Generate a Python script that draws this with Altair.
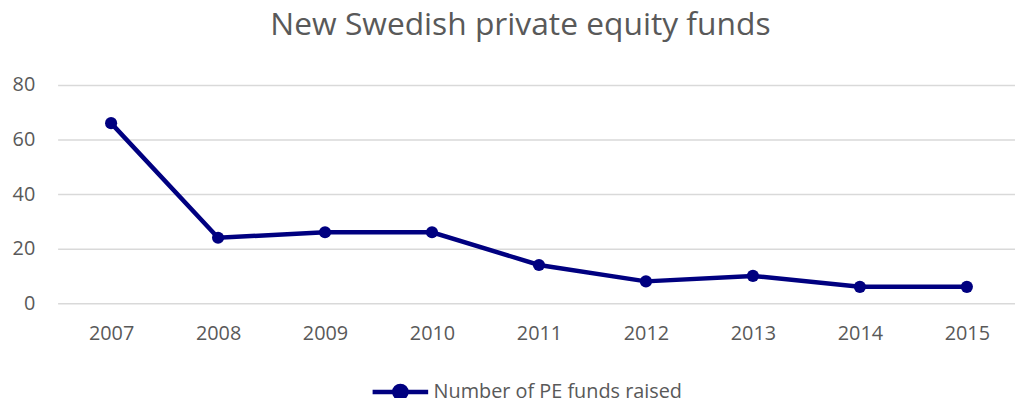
import altair as alt
import pandas as pd

years = [2007, 2008, 2009, 2010, 2011, 2012, 2013, 2014, 2015]
funds = [66, 24, 26, 26, 14, 8, 10, 6, 6]
series = ["Number of PE funds raised"] * len(years)

df = pd.DataFrame({"year": years, "funds": funds, "series": series})

NAVY = "#000080"
GREY = "#595959"
FONT = "Open Sans"

legend_path = ("M-1,0L1,0 M-0.22,0 A0.22,0.22 0 1,1 0.22,0 "
               "A0.22,0.22 0 1,1 -0.22,0 Z")

color = alt.Color(
    "series:N",
    scale=alt.Scale(range=[NAVY]),
    legend=alt.Legend(
        title=None,
        orient="none",
        legendX=315,
        legendY=279,
        symbolType=legend_path,
        symbolSize=3136,
        symbolStrokeWidth=4.5,
        symbolFillColor=NAVY,
        symbolStrokeColor=NAVY,
        labelFont=FONT,
        labelFontSize=20,
        labelColor=GREY,
        labelOffset=3,
        labelLimit=500,
    ),
)

chart = (
    alt.Chart(df)
    .mark_line(strokeWidth=4.5, point=alt.OverlayMarkDef(size=150, filled=True, opacity=1))
    .encode(
        x=alt.X(
            "year:Q",
            scale=alt.Scale(domain=[2006.5, 2015.45], nice=False, zero=False),
            axis=alt.Axis(
                values=years,
                format="d",
                title=None,
                grid=False,
                domain=False,
                ticks=False,
                labelFont=FONT,
                labelFontSize=20,
                labelColor=GREY,
                labelPadding=21,
            ),
        ),
        y=alt.Y(
            "funds:Q",
            scale=alt.Scale(domain=[0, 80]),
            axis=alt.Axis(
                values=[0, 20, 40, 60, 80],
                title=None,
                domain=False,
                ticks=False,
                gridColor="#d9d9d9",
                gridWidth=1.5,
                labelFont=FONT,
                labelFontSize=20,
                labelColor=GREY,
                labelPadding=23,
            ),
        ),
        color=color,
    )
    .properties(
        width=965,
        height=220,
        title=alt.TitleParams(
            "New Swedish private equity funds",
            font=FONT,
            fontSize=32,
            fontWeight="normal",
            color=GREY,
            offset=33,
            dx=-16,
        ),
        autosize=alt.AutoSizeParams(type="none"),
        padding={"left": 50, "top": 76, "right": 0, "bottom": 94},
    )
    .configure_view(stroke=None)
)

chart.save("out.html", embed_options={"renderer": "svg", "actions": False})
